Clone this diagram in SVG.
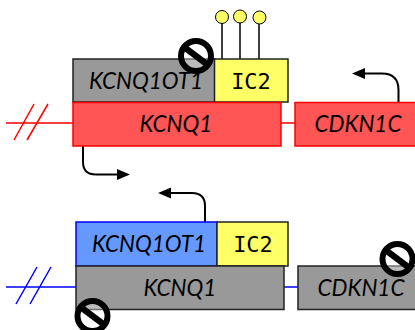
<svg xmlns="http://www.w3.org/2000/svg" width="415" height="330" viewBox="0 0 415 330">
<defs>
<g id="no"><circle r="15" fill="#fff" fill-opacity="0.35" stroke="#000" stroke-width="6"/><path d="M-12-9L12 9" stroke="#000" stroke-width="6.500"/></g>
</defs>
<style>
text{font-family:"Lato","Open Sans","DejaVu Sans",sans-serif;font-size:22.500px;font-style:italic;text-anchor:middle;fill:#000}
.ic{font-family:"DejaVu Sans Mono","Liberation Mono",monospace;font-style:normal;font-size:22px}
.grey{fill:#999}.yellow{fill:#ff6}
.red{fill:#f55;stroke:#f00;stroke-width:1.5}
.blue{fill:#69f;stroke:#00f;stroke-width:1.5}
.dk{stroke:#222;stroke-width:1.5}
.rl{stroke:#f00;stroke-width:1.5;fill:none}
.bl{stroke:#00f;stroke-width:1.5;fill:none}
.ar{stroke:#000;stroke-width:2;fill:none}
.stem{stroke:#000;stroke-width:1.5}
.ball{fill:#ff6;stroke:#000;stroke-width:1}
</style>
<g id="connectors">
<path class="rl" d="M6 123H73M14 140L34 104M27 140L48 104M281 123H295"/>
<path class="bl" d="M6 287H76M16 304L37 267M30 304L51 267M284 287H298"/>
<path class="stem" d="M222 59V23M240 59V22M259 59V24"/>
<path class="ar" d="M398.500 102V90Q398.500 73.500 382 73.500H365"/><path d="M352 73.500L365 68V79Z"/>
<path class="ar" d="M83 146V162Q83 174.500 96 174.500H117"/><path d="M130 174.500L117 169V180Z"/>
<path class="ar" d="M205 222V206Q205 193 192 193H171"/><path d="M158 193L171 187.500V198.500Z"/>
</g>
<g id="kcnq1ot1-top"><rect class="grey dk" x="73" y="59" width="142" height="43"/><text x="146" y="89">KCNQ1OT1</text></g>
<g id="ic2-top"><rect class="yellow dk" x="214.500" y="59" width="73.500" height="43"/><text class="ic" x="251" y="89">IC2</text></g>
<g id="kcnq1-top"><rect class="red" x="73" y="102.500" width="208" height="43.500"/><text x="176" y="132">KCNQ1</text></g>
<g id="cdkn1c-top"><rect class="red" x="295" y="102.500" width="125" height="43.500"/><text x="358" y="132">CDKN1C</text></g>
<g id="lollipops"><circle class="ball" cx="222" cy="17" r="6.500"/><circle class="ball" cx="240" cy="16.500" r="6.500"/><circle class="ball" cx="259.500" cy="17.500" r="6.500"/></g>
<g id="kcnq1ot1-bottom"><rect class="blue" x="76" y="222" width="141" height="44"/><text x="149" y="252">KCNQ1OT1</text></g>
<g id="ic2-bottom"><rect class="yellow dk" x="217" y="222" width="71" height="44"/><text class="ic" x="253" y="252">IC2</text></g>
<g id="kcnq1-bottom"><rect class="grey dk" x="76" y="266" width="208" height="43.500"/><text x="180" y="296">KCNQ1</text></g>
<g id="cdkn1c-bottom"><rect class="grey dk" x="298" y="266" width="122" height="43.500"/><text x="361" y="296">CDKN1C</text></g>
<use id="no-top" href="#no" x="196" y="56"/>
<use id="no-bottom-left" href="#no" x="92.500" y="316"/>
<use id="no-bottom-right" href="#no" x="397.500" y="259"/>
</svg>
